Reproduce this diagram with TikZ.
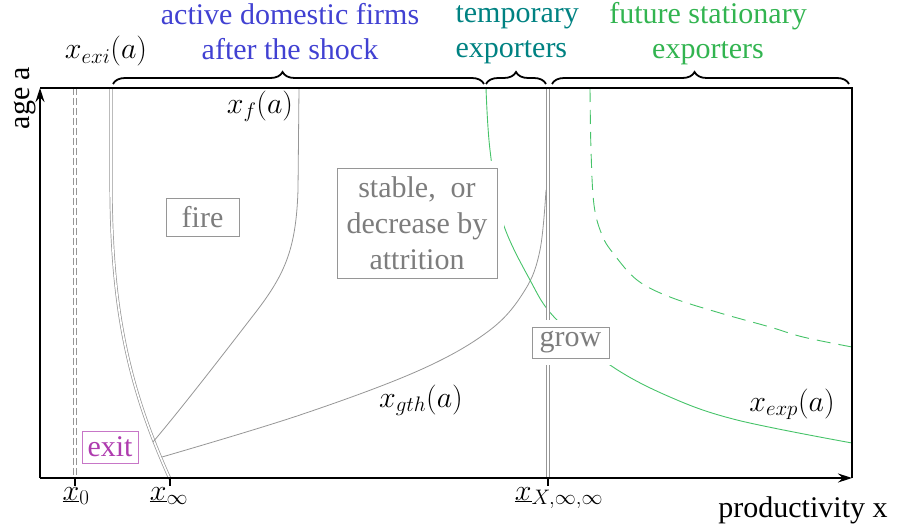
\RequirePackage{fix-cm}
\documentclass[tikz,border=0pt]{standalone}
\usepackage[no-math]{fontspec}
\setmainfont{Liberation Serif}
\usetikzlibrary{arrows.meta,decorations.pathreplacing}
\definecolor{lgrey}{RGB}{150,150,150}
\definecolor{tgrey}{RGB}{125,125,125}
\definecolor{lgreen}{RGB}{70,195,105}
\definecolor{hblue}{RGB}{65,65,210}
\definecolor{hteal}{RGB}{0,130,130}
\definecolor{hgreen}{RGB}{50,180,80}
\definecolor{hpurple}{RGB}{175,60,175}
\tikzset{
  frame/.style={line width=1.2pt, black},
  dbl/.style={draw=lgrey, double=white, double distance=1.7pt, line width=0.7pt},
  curve/.style={draw=lgrey, line width=0.8pt},
  gcurve/.style={draw=lgreen, line width=0.9pt},
  lab/.style={draw=lgrey, text=tgrey, fill=white, inner sep=0pt, line width=0.9pt, align=center},
  knock/.style={preaction={draw=white, line width=14pt}},
  bracedeco/.style={decorate, line width=1.8pt, black},
  tick/.style={line width=1.2pt, black},
}
\begin{document}
\begin{tikzpicture}[x=1pt,y=-1pt,font=\fontsize{30}{35}\selectfont]
\useasboundingbox (0,0) rectangle (897,527);

% axes coordinates
\coordinate (O) at (40,478);
\coordinate (XE) at (852,478);
\coordinate (YE) at (40,88);
\coordinate (TR) at (852,88);

% x_0 dashed double line
\coordinate (z0t) at (75,88);
\coordinate (z0b) at (75,478);
\draw[dbl, dash pattern=on 7pt off 3pt] (z0t) -- (z0b);

% x_exi(a) double curve
\draw[dbl] (111,88) -- (111,180) .. controls (111,300) and (125,380) .. (170,479);

% x_f(a)
\draw[curve] (299,88) -- (298,190) .. controls (296,250) and (285,275) .. (252,317) .. controls (215,365) and (180,410) .. (153,442);

% x_gth(a)
\draw[curve] plot[smooth, tension=0.6] coordinates {(162,457) (300,415) (420,370) (490,330) (525,290) (540,250) (546,190)};

% x_exp(a)
\draw[gcurve] plot[smooth, tension=0.6] coordinates {(486,88) (490,150) (502,220) (530,280) (555,318) (610,365) (670,397) (737,420) (852,443)};

% dashed green
\draw[gcurve, dash pattern=on 14pt off 8pt] plot[smooth, tension=0.6] coordinates {(590,88) (591,150) (594,205) (602,235) (613,253) (637,280) (670,297) (720,313) (770,327) (803,337) (852,347)};

% x_X double line
\coordinate (zXt) at (548,88);
\coordinate (zXb) at (548,478);
\draw[dbl] (zXt) -- (zXb);

% frame and axes
\draw[frame] (YE) -- (TR) -- (XE);
\draw[frame, -{Stealth[length=14pt,width=9pt]}] (O) -- (XE);
\draw[frame, -{Stealth[length=14pt,width=9pt]}] (O) -- (YE);

% ticks
\draw[tick] (z0b) -- ++(0,8);
\draw[tick] (170,478) coordinate (zinf) -- ++(0,8);
\draw[tick] (zXb) -- ++(0,8);

% tick labels
\node[anchor=base] (t0) at (76,500) {$\underline{x}_0$};
\node[anchor=base] (tinf) at (169,500) {$\underline{x}_\infty$};
\node[anchor=base] (tX) at (559,500) {$\underline{x}_{X,\infty,\infty}$};

% axis labels
\node[anchor=base] (xlab) at (803,517) {productivity x};
\node[rotate=90, anchor=base] (ylab) at (29,98) {age a};

% curve labels
\node[anchor=base] (nExi) at (106,59) {$x_{exi}(a)$};
\node[anchor=base] (nF) at (260,113) {$x_f(a)$};
\node[anchor=base] (nGth) at (421,407) {$x_{gth}(a)$};
\node[anchor=base] (nExp) at (792,411) {$x_{exp}(a)$};

% region boxes
\node[lab, minimum width=73pt, minimum height=38pt] (fire) at (202.5,217) {fire};
\node[lab, knock, minimum width=160pt, minimum height=110pt, font=\fontsize{30}{36}\selectfont] (stable) at (417,223) {stable,~ or\\decrease by\\attrition};
\node[lab, knock, minimum width=77pt, minimum height=31pt] (grow) at (570.5,342.5) {grow};
\node[lab, draw=hpurple!70, text=hpurple, minimum width=56pt, minimum height=32pt] (exit) at (110,447) {exit};

% braces
\draw[bracedeco, decoration={brace, amplitude=12pt, aspect=0.457}] (113,84) -- (484,84);
\draw[bracedeco, decoration={brace, amplitude=12pt, aspect=0.5}] (486,84) -- (546,84);
\draw[bracedeco, decoration={brace, amplitude=12pt, aspect=0.48}] (552,84) -- (849,84);

% headers
\node[text=hblue, align=center] (hdr1) at (290,32) {active domestic firms\\after the shock};
\node[text=hteal, align=left, anchor=west] (hdr2) at (452,35) {temporary\\exporters};
\node[text=hgreen, align=center] (hdr3) at (708,34) {future stationary\\exporters};
\end{tikzpicture}
\end{document}
